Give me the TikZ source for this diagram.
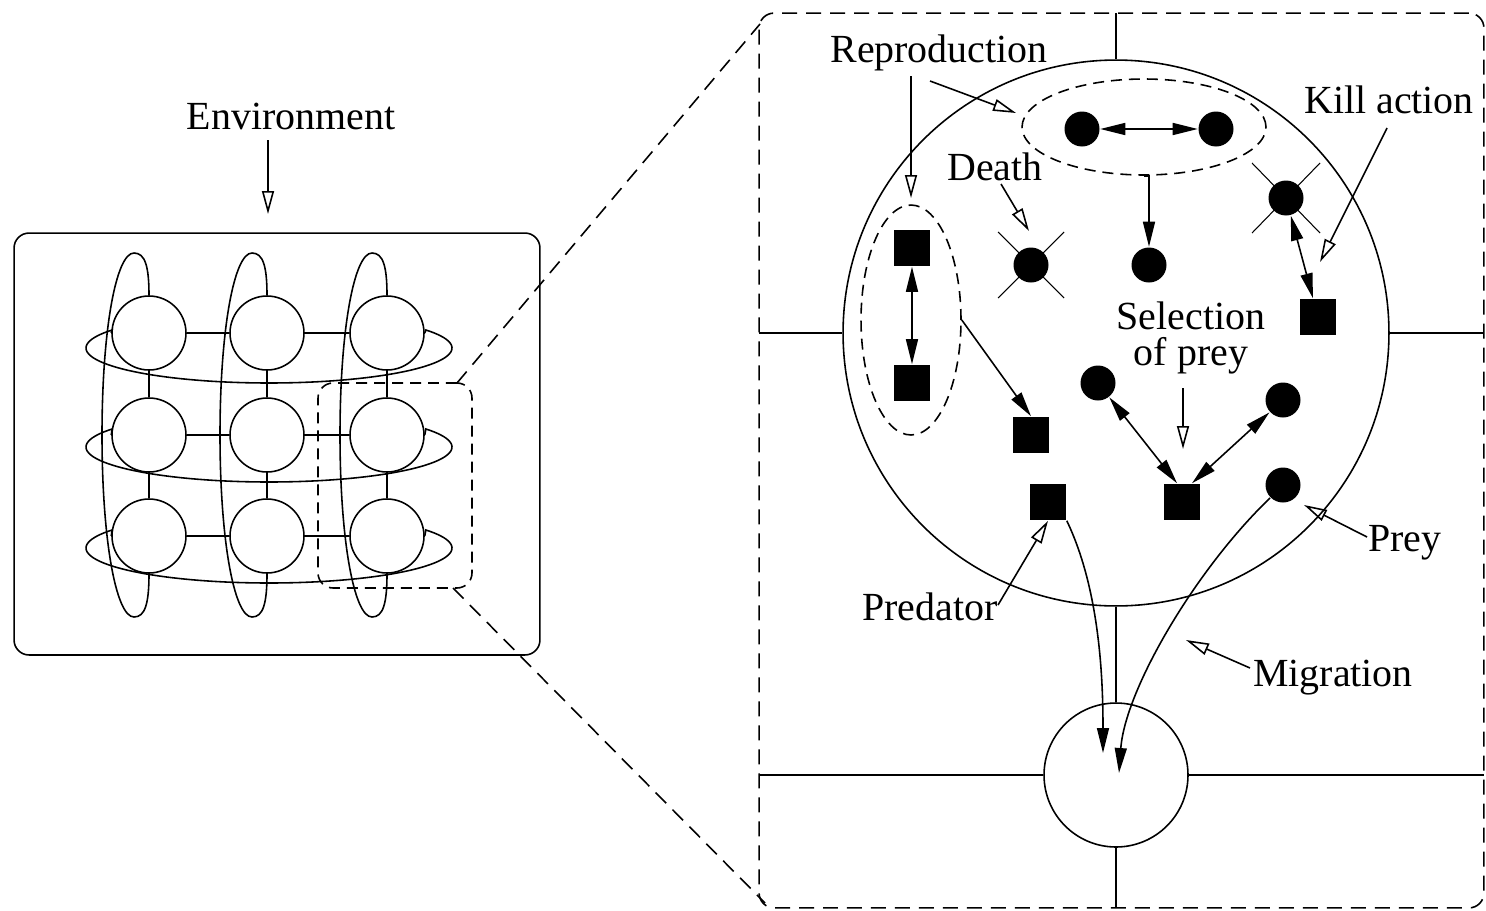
\documentclass[tikz,border=0pt]{standalone}
\usepackage{fontspec}
\setmainfont{Liberation Serif}
\usetikzlibrary{arrows.meta,shapes.geometric}
\begin{document}
\begin{tikzpicture}[x=0.02cm,y=-0.02cm,
  line width=0.9pt,
  lbl/.style={font=\fontsize{22.7}{20.5}\selectfont, inner sep=0pt, anchor=base, align=center},
  gnode/.style={circle, draw, fill=white, minimum size=1.48cm, inner sep=0pt},
  dot/.style={circle, fill=black, minimum size=0.7cm, inner sep=0pt},
  sq/.style={rectangle, fill=black, minimum size=0.72cm, inner sep=0pt},
  oarr/.style={-{Triangle[open,length=0.46cm,width=0.24cm]}},
  farr/.style={-{Triangle[length=0.5cm,width=0.24cm]}},
  darr/.style={{Triangle[length=0.5cm,width=0.24cm]}-{Triangle[length=0.5cm,width=0.24cm]}},
  bigdash/.style={dash pattern=on 0.3cm off 0.18cm},
  smalldash/.style={dash pattern=on 0.22cm off 0.14cm},
  xline/.style={line width=0.6pt},
]
\useasboundingbox (0,0) rectangle (1486,910);
\fill[white] (0,0) rectangle (1486,910);

% ---------------- left panel ----------------
\node[draw, rounded corners=0.3cm, minimum width=10.52cm, minimum height=8.44cm, inner sep=0pt] (envbox) at (277,444) {};
\node[lbl] (ENV) at (291,129) {Environment};
\coordinate (envA) at (268,140);
\coordinate (envT) at (268,214);
\draw[oarr] (envA) -- (envT);

\foreach \r/\yy in {1/333,2/435,3/536}
  \foreach \c/\xx in {1/149,2/267,3/387}
    \node[gnode] (g\r\c) at (\xx,\yy) {};

\foreach \r in {1,2,3} {
  \draw (g\r1) -- (g\r2);
  \draw (g\r2) -- (g\r3);
}
\foreach \c in {1,2,3} {
  \draw (g1\c) -- (g2\c);
  \draw (g2\c) -- (g3\c);
}
% wrap-around loops (rows)
\foreach \r/\cy in {1/348,2/447,3/548}
  \draw (g\r3.east) -- plot[domain=-31:211,samples=90] ({269+183*cos(\x)},{\cy+35*sin(\x)}) -- (g\r1.west);
% wrap-around loops (columns)
\foreach \c/\cx in {1/149,2/267,3/387}
  \draw (g1\c.north) .. controls (\cx,266) and (\cx-4,253) .. (\cx-15,253)
        .. controls (\cx-33,253) and (\cx-47,330) .. (\cx-47,435)
        .. controls (\cx-47,540) and (\cx-33,617) .. (\cx-15,617)
        .. controls (\cx-4,617) and (\cx,604) .. (g3\c.south);

% zoomed region
\node[draw, smalldash, rounded corners=0.3cm, minimum width=3.08cm, minimum height=4.1cm, inner sep=0pt] (zsrc) at (395,485.5) {};
\node[draw, bigdash, rounded corners=0.3cm, minimum width=14.5cm, minimum height=17.9cm, inner sep=0pt] (bigbox) at (1121.5,460.5) {};
\coordinate (zs1) at (457,383);
\coordinate (zt1) at (760,24);
\coordinate (zs2) at (453,588);
\coordinate (zt2) at (765,903);
\draw[bigdash] (zs1) -- (zt1);
\draw[bigdash] (zs2) -- (zt2);

% ---------------- right panel ----------------
\node[circle, draw, minimum size=10.92cm, inner sep=0pt] (BC) at (1116,333) {};
\node[circle, draw, minimum size=2.88cm, inner sep=0pt] (SC) at (1116,775) {};
\coordinate (eN) at (1116,13);
\coordinate (eW1) at (759,333);
\coordinate (eE1) at (1484,333);
\coordinate (eW2) at (759,775);
\coordinate (eE2) at (1484,775);
\coordinate (eS) at (1116,908);
\draw (eN) -- (BC.north);
\draw (eW1) -- (BC.west);
\draw (BC.east) -- (eE1);
\draw (BC.south) -- (SC.north);
\draw (eW2) -- (SC.west);
\draw (SC.east) -- (eE2);
\draw (SC.south) -- (eS);

% reproduction of prey
\node[ellipse, draw, smalldash, minimum width=4.88cm, minimum height=1.92cm, inner sep=0pt] (RE) at (1144,127) {};
\node[dot] (P1) at (1082,129) {};
\node[dot] (P2) at (1216,129) {};
\draw[darr] (P1) -- (P2);
\node[dot] (P3) at (1149,265) {};
\draw[farr] (RE.south) -| (P3.north);

% reproduction of predators
\node[ellipse, draw, smalldash, minimum width=2cm, minimum height=4.6cm, inner sep=0pt] (PE) at (911,320) {};
\node[sq] (Q1) at (912,248) {};
\node[sq] (Q2) at (912,383) {};
\draw[darr] (Q1) -- (Q2);
\node[sq] (Q3) at (1031,435) {};
\draw[farr] (PE.east) -- (Q3.north);

% death
\node[dot] (D1) at (1031,265) {};
\draw[xline] ([shift={(-33,-33)}]D1.center) -- ([shift={(33,33)}]D1.center);
\draw[xline] ([shift={(33,-33)}]D1.center) -- ([shift={(-33,33)}]D1.center);

% kill
\node[dot] (D2) at (1286,198) {};
\draw[xline] ([shift={(-34,-35)}]D2.center) -- ([shift={(34,35)}]D2.center);
\draw[xline] ([shift={(34,-35)}]D2.center) -- ([shift={(-34,35)}]D2.center);
\node[sq] (Q4) at (1318,317) {};
\draw[darr] (D2) -- (Q4);

% selection of prey
\node[dot] (P4) at (1098,383) {};
\node[dot] (P5) at (1283,400) {};
\node[sq] (Q5) at (1182,502) {};
\draw[darr] (P4) -- ([xshift=-0.1cm]Q5.north);
\draw[darr] (P5) -- ([xshift=0.2cm]Q5.north);

% migration
\node[sq] (Q6) at (1048,502) {};
\node[dot] (P6) at (1283,485) {};
\coordinate (m1) at (1103,753);
\coordinate (m2) at (1119,773);
\draw[farr] (Q6.south east) .. controls (1100,590) and (1103,680) .. (m1);
\draw[farr] (P6.south west) .. controls (1195,570) and (1125,690) .. (m2);

% labels
\node[lbl] (REP) at (939,62) {Reproduction};
\coordinate (rA1) at (911,76);
\coordinate (rT1) at (911,198);
\coordinate (rA2) at (930,81);
\coordinate (rT2) at (1016,113);
\draw[oarr] (rA1) -- (rT1);
\draw[oarr] (rA2) -- (rT2);

\node[lbl] (DEATH) at (995,180) {Death};
\coordinate (dA) at (1001,184);
\coordinate (dT) at (1029,231);
\draw[oarr] (dA) -- (dT);

\node[lbl] (KILL) at (1389,113) {Kill action};
\coordinate (kA) at (1387,128);
\coordinate (kT) at (1320,262);
\draw[oarr] (kA) -- (kT);

\node[lbl, anchor=center] (SEL) at (1191,338) {Selection\\of prey};
\coordinate (sA) at (1183,388);
\coordinate (sT) at (1183,449);
\draw[oarr] (sA) -- (sT);

\node[lbl] (PRED) at (930,620) {Predator};
\coordinate (pA) at (998,605);
\draw[oarr] (pA) -- (Q6.south);

\node[lbl] (PREY) at (1405,551) {Prey};
\coordinate (yA) at (1367,537);
\coordinate (yT) at (1304,505);
\draw[oarr] (yA) -- (yT);

\node[lbl] (MIG) at (1333,686) {Migration};
\coordinate (mA) at (1250,668);
\coordinate (mT) at (1186,640);
\draw[oarr] (mA) -- (mT);
\end{tikzpicture}
\end{document}
